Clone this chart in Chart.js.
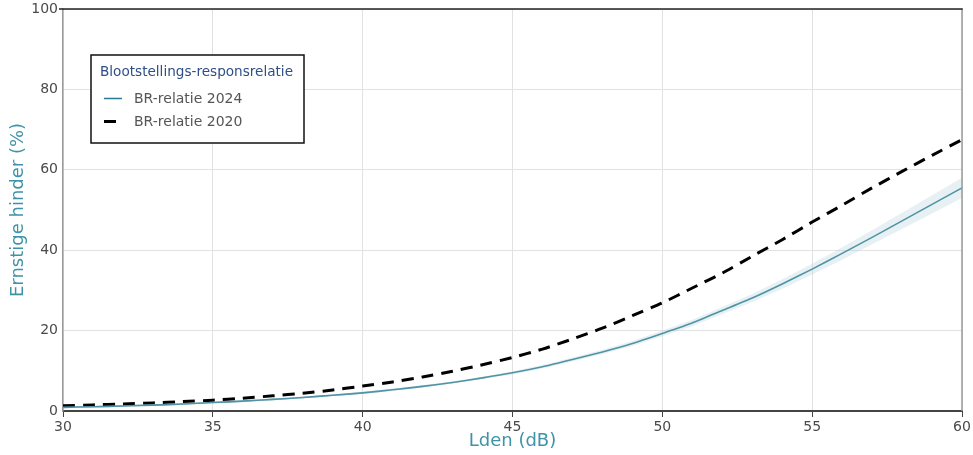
<!DOCTYPE html>
<html>
<head>
<meta charset="utf-8">
<script src="https://cdn.jsdelivr.net/npm/chart.js@4/dist/chart.umd.min.js"></script>
<style>
html,body{margin:0;padding:0;background:#fff;}
#wrap{width:973px;height:455px;position:relative;}
</style>
</head>
<body>
<div id="wrap"><canvas id="c" width="973" height="455"></canvas></div>
<script>
// ---- data ----
const lden = [30,31,32,33,34,35,36,37,38,39,40,41,42,43,44,45,46,47,48,49,50,51,52,53,54,55,56,57,58,59,60];
const br2024 = [0.9,1.06,1.25,1.46,1.73,2.1,2.46,2.88,3.36,3.92,4.5,5.27,6.12,7.11,8.24,9.5,11.0,12.8,14.7,16.8,19.3,21.9,25.0,28.1,31.6,35.3,39.2,43.2,47.3,51.4,55.5];
const br2024Lower = [0.7,0.86,1.05,1.26,1.53,1.9,2.26,2.68,3.16,3.72,4.2,4.97,5.82,6.81,7.94,9.1,10.55,12.3,14.15,16.2,18.6,21.1,24.1,27.1,30.4,33.95,37.65,41.45,45.3,49.15,53.0];
const br2024Upper = [1.1,1.26,1.45,1.66,1.93,2.3,2.66,3.08,3.56,4.12,4.8,5.57,6.42,7.41,8.54,9.9,11.45,13.3,15.25,17.4,20.0,22.7,25.9,29.1,32.8,36.65,40.75,44.95,49.3,53.65,58.0];
const br2020 = [1.3,1.51,1.75,2.02,2.34,2.7,3.2,3.77,4.43,5.21,6.2,7.24,8.47,9.89,11.5,13.3,15.4,17.9,20.6,23.7,26.9,30.6,34.3,38.5,42.6,47.0,51.2,55.5,59.6,63.6,67.5];
const xTicks = [30,35,40,45,50,55,60];
const yTicks = [0,20,40,60,80,100];
const legendTitle = "Blootstellings-responsrelatie";
const seriesNames = ["BR-relatie 2024","BR-relatie 2020"];
const xTitle = "Lden (dB)";
const yTitle = "Ernstige hinder (%)";

const pts = arr => arr.map((v,i)=>({x:lden[i], y:v}));
const FONT = "'DejaVu Sans', Verdana, sans-serif";
const TEAL = "#267a91";
const TITLE_TEAL = "#3f93a8";

const decor = {
  id:'decor',
  afterDraw(chart){
    const ctx = chart.ctx, a = chart.chartArea;
    ctx.save();
    // right border
    ctx.strokeStyle = '#9a9a9a'; ctx.lineWidth = 1.5;
    ctx.beginPath(); ctx.moveTo(a.right, a.top); ctx.lineTo(a.right, a.bottom); ctx.stroke();
    // top border
    ctx.strokeStyle = '#222'; ctx.lineWidth = 1.5;
    ctx.beginPath(); ctx.moveTo(a.left-4, a.top); ctx.lineTo(a.right+0.75, a.top); ctx.stroke();
    // axis titles
    ctx.fillStyle = TITLE_TEAL;
    ctx.font = "18px " + FONT;
    ctx.textAlign = 'center'; ctx.textBaseline = 'middle';
    ctx.fillText(xTitle, (a.left+a.right)/2, 441);
    ctx.translate(18, 210);
    ctx.rotate(-Math.PI/2);
    ctx.fillText(yTitle, 0, 0);
    ctx.restore();

    // legend box
    ctx.save();
    const bx = 91, by = 55, bw = 213, bh = 88;
    ctx.fillStyle = '#fff';
    ctx.fillRect(bx, by, bw, bh);
    ctx.strokeStyle = '#111'; ctx.lineWidth = 1.5;
    ctx.strokeRect(bx, by, bw, bh);
    ctx.font = "13.6px " + FONT;
    ctx.textBaseline = 'middle'; ctx.textAlign = 'left';
    ctx.fillStyle = '#2d4f86';
    ctx.fillText(legendTitle, 100, 72);
    ctx.font = "14px " + FONT;
    ctx.fillStyle = '#555';
    ctx.fillText(seriesNames[0], 134, 99);
    ctx.fillText(seriesNames[1], 134, 122);
    ctx.strokeStyle = TEAL; ctx.lineWidth = 1.5;
    ctx.beginPath(); ctx.moveTo(104, 98.5); ctx.lineTo(122, 98.5); ctx.stroke();
    ctx.strokeStyle = '#000'; ctx.lineWidth = 3;
    ctx.beginPath(); ctx.moveTo(104, 121.5); ctx.lineTo(116, 121.5); ctx.stroke();
    ctx.restore();
  }
};

new Chart(document.getElementById('c'), {
  type:'line',
  data:{
    datasets:[
      {label:'lower', data:pts(br2024Lower), borderWidth:0, pointRadius:0, fill:false, borderColor:'rgba(0,0,0,0)'},
      {label:'upper', data:pts(br2024Upper), borderWidth:0, pointRadius:0, fill:'-1', borderColor:'rgba(0,0,0,0)', backgroundColor:'rgba(175,205,215,0.3)'},
      {label:seriesNames[0], data:pts(br2024), borderColor:TEAL, borderWidth:1.6, pointRadius:0, fill:false, tension:0.2},
      {label:seriesNames[1], data:pts(br2020), borderColor:'#000', borderWidth:3, borderDash:[12,8], pointRadius:0, fill:false, tension:0.2}
    ]
  },
  options:{
    responsive:false, animation:false, devicePixelRatio:1,
    layout:{padding:{top:9,right:11,left:0,bottom:0}},
    plugins:{legend:{display:false}, tooltip:{enabled:false}},
    scales:{
      x:{
        type:'linear', min:30, max:60,
        afterBuildTicks(s){ s.ticks = xTicks.map(v=>({value:v})); },
        afterFit(s){ s.height = 44; s.paddingLeft = 0; s.paddingRight = 0; },
        ticks:{font:{family:FONT,size:14}, color:'#4a4a4a', padding:2, maxRotation:0},
        grid:{color:'#e2e2e2', lineWidth:1, tickLength:6, tickColor:'#444', drawOnChartArea:true},
        border:{display:true, color:'#444', width:2}
      },
      y:{
        type:'linear', min:0, max:100,
        afterBuildTicks(s){ s.ticks = yTicks.map(v=>({value:v})); },
        afterFit(s){ s.width = 63; s.paddingTop = 0; s.paddingBottom = 0; },
        ticks:{font:{family:FONT,size:14}, color:'#4a4a4a', padding:5},
        grid:{color:'#e2e2e2', lineWidth:1, drawTicks:false},
        border:{display:true, color:'#9a9a9a', width:1.5}
      }
    }
  },
  plugins:[decor]
});
</script>
</body>
</html>
